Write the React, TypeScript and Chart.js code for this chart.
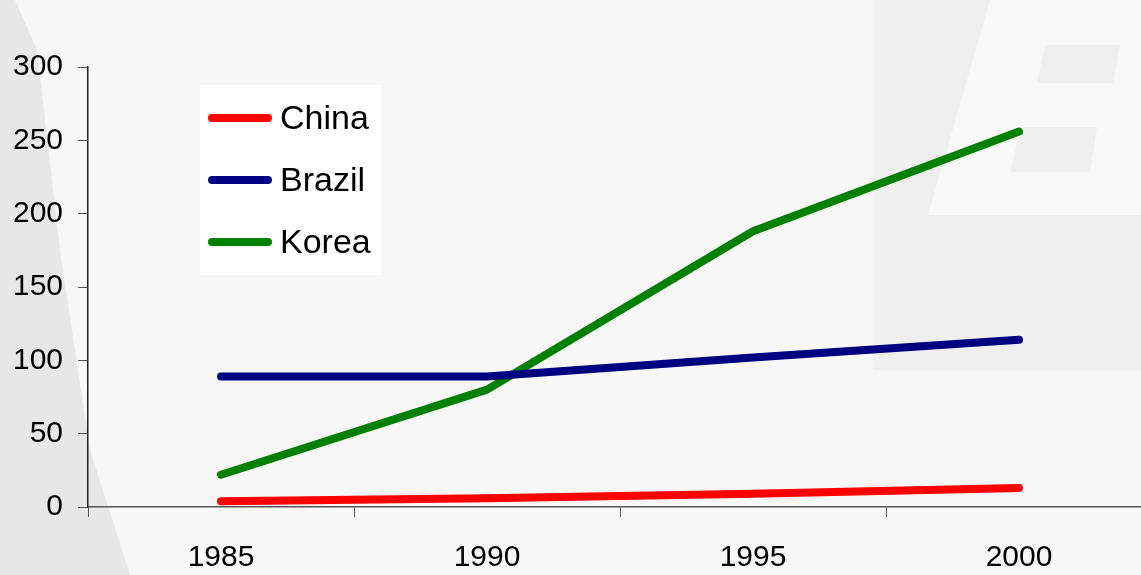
import React, { useEffect, useRef } from "react";
import { Chart, registerables } from "chart.js";

Chart.register(...registerables);

const years = ["1985", "1990", "1995", "2000"];
const seriesNames = ["China", "Brazil", "Korea"];
const chinaValues = [4, 6, 9, 13];
const brazilValues = [89, 89, 102, 114];
const koreaValues = [22, 80, 188, 256];
const seriesColors = ["#ff0000", "#000080", "#008000"];
const yMin = 0;
const yMax = 300;
const yStep = 50;

const FONT = "'Liberation Sans', Arial, sans-serif";

const insideLegend = {
  id: "insideLegend",
  afterDraw(chart: any, _args: any, opts: any) {
    const ctx = chart.ctx;
    const { left, top } = chart.chartArea;
    const x = left + opts.offsetX;
    const y = top + opts.offsetY;
    ctx.save();
    ctx.fillStyle = "#ffffff";
    ctx.fillRect(x, y, opts.boxWidth, opts.boxHeight);
    chart.data.datasets.forEach((ds: any, i: number) => {
      const cy = y + opts.firstRow + i * opts.rowGap;
      ctx.strokeStyle = ds.borderColor;
      ctx.lineWidth = ds.borderWidth;
      ctx.lineCap = "round";
      ctx.beginPath();
      ctx.moveTo(x + opts.lineX0, cy);
      ctx.lineTo(x + opts.lineX1, cy);
      ctx.stroke();
      ctx.fillStyle = "#000000";
      ctx.font = `${opts.fontSize}px ${FONT}`;
      ctx.textBaseline = "middle";
      ctx.textAlign = "left";
      ctx.fillText(ds.label, x + opts.textX, cy + 2);
    });
    ctx.restore();
  },
};

export default function App() {
  const canvasRef = useRef<HTMLCanvasElement | null>(null);

  useEffect(() => {
    if (!canvasRef.current) return;
    const values = [chinaValues, brazilValues, koreaValues];
    const chart = new Chart(canvasRef.current, {
      type: "line",
      data: {
        labels: years,
        datasets: seriesNames.map((name, i) => ({
          label: name,
          data: values[i],
          borderColor: seriesColors[i],
          backgroundColor: seriesColors[i],
          borderWidth: 8,
          borderCapStyle: "round" as const,
          borderJoinStyle: "round" as const,
          pointRadius: 0,
          tension: 0,
          fill: false,
        })),
      },
      options: {
        responsive: false,
        animation: false,
        devicePixelRatio: 1,
        layout: { padding: { top: 67, right: 8, left: 0, bottom: 0 } },
        plugins: {
          legend: { display: false },
          tooltip: { enabled: false },
          title: { display: false },
          insideLegend: {
            offsetX: 112,
            offsetY: 18,
            boxWidth: 181,
            boxHeight: 190,
            firstRow: 33,
            rowGap: 62,
            lineX0: 12,
            lineX1: 68,
            textX: 80,
            fontSize: 34,
          },
        } as any,
        scales: {
          x: {
            type: "category",
            offset: true,
            grid: {
              offset: true,
              drawOnChartArea: false,
              drawTicks: true,
              tickLength: 10,
              color: "#555555",
            },
            border: { display: true, color: "#555555", width: 1.5 },
            ticks: {
              color: "#000000",
              font: { family: FONT, size: 30 },
              padding: 23,
              maxRotation: 0,
            },
            afterFit(scale: any) {
              scale.height = 68;
            },
          },
          y: {
            min: yMin,
            max: yMax,
            grid: {
              drawOnChartArea: false,
              drawTicks: true,
              tickLength: 10,
              color: "#555555",
            },
            border: { display: true, color: "#222222", width: 1.5 },
            ticks: {
              stepSize: yStep,
              color: "#000000",
              font: { family: FONT, size: 30 },
              padding: 15,
            },
            afterFit(scale: any) {
              scale.width = 88;
            },
          },
        },
      },
      plugins: [insideLegend],
    });
    return () => chart.destroy();
  }, []);

  return (
    <div
      style={{
        position: "fixed",
        left: 0,
        top: 0,
        width: 1141,
        height: 575,
        overflow: "hidden",
        background: "#f7f7f7",
      }}
    >
      <svg
        width={1141}
        height={575}
        style={{ position: "absolute", left: 0, top: 0 }}
      >
        <path
          d="M0,0 L15,0 L37,50 L60,250 L90,450 L130,575 L0,575 Z"
          fill="#e7e7e7"
        />
        <rect x={873} y={0} width={268} height={370} fill="#efefef" />
        <polygon points="990,0 1141,0 1141,215 928,215" fill="#f8f8f8" />
        <polygon points="1045,45 1120,45 1113,83 1037,83" fill="#efefef" />
        <polygon points="1020,127 1097,127 1090,172 1011,172" fill="#efefef" />
      </svg>
      <canvas
        ref={canvasRef}
        width={1160}
        height={575}
        style={{ position: "absolute", left: 0, top: 0 }}
      />
    </div>
  );
}
